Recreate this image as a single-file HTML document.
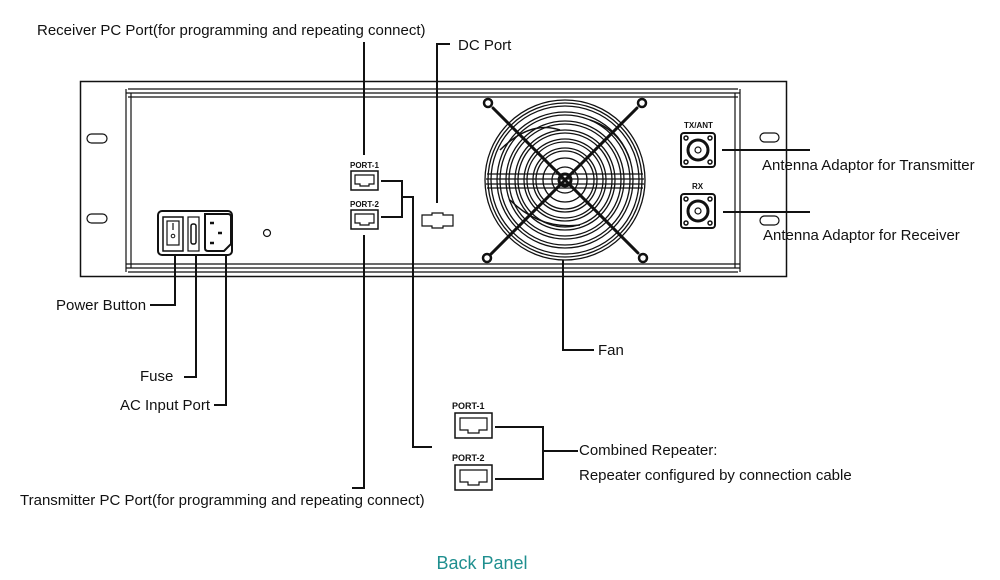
<!DOCTYPE html>
<html><head><meta charset="utf-8"><style>
html,body{margin:0;padding:0;background:#fff;}
svg{display:block;font-family:"Liberation Sans",Arial,sans-serif;}
.t{font-size:15px;fill:#111;}
.s{font-size:8px;font-weight:bold;fill:#111;}
</style></head><body>
<svg width="1000" height="580" viewBox="0 0 1000 580" xmlns="http://www.w3.org/2000/svg">
<g fill="none" stroke="#111">
<rect x="80.5" y="81.5" width="706" height="195" stroke-width="1.5"/>
<path d="M128 89 H738 M126 93 H740 M128 97 H738 M126 268 H740 M128 272 H738 M126 264 H740 M126 89 V272 M131 93 V268 M740 89 V272 M735 93 V268" stroke-width="1.2"/>
<rect x="87" y="134" width="20" height="9" rx="4.5" stroke-width="1.2"/>
<rect x="87" y="214" width="20" height="9" rx="4.5" stroke-width="1.2"/>
<rect x="760" y="133" width="19" height="9" rx="4.5" stroke-width="1.2"/>
<rect x="760" y="216" width="19" height="9" rx="4.5" stroke-width="1.2"/>
<rect x="158" y="211" width="74" height="44" rx="4" stroke-width="2"/>
<rect x="163" y="217" width="20" height="34" stroke-width="1.5"/>
<rect x="167" y="221" width="12" height="24" stroke-width="1.2"/>
<line x1="173" y1="223" x2="173" y2="230" stroke-width="1.2"/>
<circle cx="173" cy="236" r="1.8" stroke-width="1"/>
<rect x="188" y="217" width="11" height="34" stroke-width="1.2"/>
<rect x="191" y="224" width="5" height="20" rx="2" stroke-width="1.5"/>
<path d="M205 214 H228 Q231 214 231 217 V244 L224 251 H208 Q205 251 205 248 Z" stroke-width="2"/>
<g stroke-width="2.5"><line x1="210" y1="223" x2="214" y2="223"/><line x1="218" y1="233" x2="222" y2="233"/><line x1="210" y1="243" x2="214" y2="243"/></g>
<circle cx="267" cy="233" r="3.5" stroke-width="1.2"/>
<rect x="351" y="171" width="27" height="19" stroke-width="1.5"/>
<path d="M355 175 H374 V184 H369 V186 H360 V184 H355 Z" stroke-width="1.2"/>
<rect x="351" y="210" width="27" height="19" stroke-width="1.5"/>
<path d="M355 214 H374 V223 H369 V225 H360 V223 H355 Z" stroke-width="1.2"/>
<path d="M422 215 H432 V213 H443 V215 H453 V226 H443 V228 H432 V226 H422 Z" stroke-width="1.2"/>
<!-- fan -->
<g stroke-width="1.3">
<circle cx="565" cy="180" r="80"/><circle cx="565" cy="180" r="77"/><circle cx="565" cy="180" r="74"/>
<circle cx="565" cy="180" r="68"/><circle cx="565" cy="180" r="65"/>
<circle cx="565" cy="180" r="59"/><circle cx="565" cy="180" r="56"/>
<circle cx="565" cy="180" r="50"/><circle cx="565" cy="180" r="47"/>
<circle cx="565" cy="180" r="41"/><circle cx="565" cy="180" r="38"/>
<circle cx="565" cy="180" r="32"/><circle cx="565" cy="180" r="29"/>
<circle cx="565" cy="180" r="22"/><circle cx="565" cy="180" r="13"/>
<path d="M487 174 H643 M486 179 H644 M486 184 H644 M487 188 H643"/>
<path d="M500 150 Q530 120 560 130 M590 120 Q620 130 630 160 M510 200 Q540 230 580 225" stroke-width="1.5"/>
</g>
<g stroke-width="3" stroke-linecap="round">
<line x1="493" y1="108" x2="638" y2="253"/>
<line x1="637" y1="108" x2="490" y2="255"/>
</g>
<circle cx="488" cy="103" r="4" stroke-width="2.5"/><circle cx="642" cy="103" r="4" stroke-width="2.5"/>
<circle cx="487" cy="258" r="4" stroke-width="2.5"/><circle cx="643" cy="258" r="4" stroke-width="2.5"/>
<circle cx="565" cy="180" r="6" stroke-width="3"/>
<rect x="681" y="133" width="34" height="34" rx="3" stroke-width="2"/>
<circle cx="698" cy="150" r="10" stroke-width="3"/><circle cx="698" cy="150" r="3" stroke-width="1.2"/>
<g stroke-width="1.5"><circle cx="686" cy="138" r="2"/><circle cx="710" cy="138" r="2"/><circle cx="686" cy="162" r="2"/><circle cx="710" cy="162" r="2"/></g>
<rect x="681" y="194" width="34" height="34" rx="3" stroke-width="2"/>
<circle cx="698" cy="211" r="10" stroke-width="3"/><circle cx="698" cy="211" r="3" stroke-width="1.2"/>
<g stroke-width="1.5"><circle cx="686" cy="199" r="2"/><circle cx="710" cy="199" r="2"/><circle cx="686" cy="223" r="2"/><circle cx="710" cy="223" r="2"/></g>
<rect x="455" y="413" width="37" height="25" stroke-width="1.5"/>
<path d="M460 418 H487 V430 H479 V433 H468 V430 H460 Z" stroke-width="1.2"/>
<rect x="455" y="465" width="37" height="25" stroke-width="1.5"/>
<path d="M460 470 H487 V482 H479 V485 H468 V482 H460 Z" stroke-width="1.2"/>
<g stroke-width="2">
<polyline points="364,42 364,155"/>
<polyline points="437,203 437,44 450,44"/>
<polyline points="381,181 402,181 402,217 381,217"/>
<polyline points="402,197 413,197 413,447 432,447"/>
<polyline points="364,235 364,488 352,488"/>
<polyline points="175,255 175,305 150,305"/>
<polyline points="196,255 196,377 184,377"/>
<polyline points="226,255 226,405 214,405"/>
<polyline points="563,260 563,350 594,350"/>
<polyline points="495,427 543,427 543,479 495,479"/>
<polyline points="543,451 578,451"/>
<line x1="722" y1="150" x2="810" y2="150"/>
<line x1="723" y1="212" x2="810" y2="212"/>
</g>
</g>
<text class="s" x="350" y="168">PORT-1</text>
<text class="s" x="350" y="207">PORT-2</text>
<text class="s" x="684" y="128">TX/ANT</text>
<text class="s" x="692" y="189">RX</text>
<text class="s" x="452" y="409" style="font-size:9px">PORT-1</text>
<text class="s" x="452" y="461" style="font-size:9px">PORT-2</text>
<text class="t" x="37" y="35">Receiver PC Port(for programming and repeating connect)</text>
<text class="t" x="458" y="50">DC Port</text>
<text class="t" x="762" y="170">Antenna Adaptor for Transmitter</text>
<text class="t" x="763" y="240">Antenna Adaptor for Receiver</text>
<text class="t" x="56" y="310">Power Button</text>
<text class="t" x="140" y="381">Fuse</text>
<text class="t" x="120" y="410">AC Input Port</text>
<text class="t" x="598" y="355">Fan</text>
<text class="t" x="579" y="455">Combined Repeater:</text>
<text class="t" x="579" y="480">Repeater configured by connection cable</text>
<text class="t" x="20" y="505">Transmitter PC Port(for programming and repeating connect)</text>
<text x="482" y="569" text-anchor="middle" style="font-size:18px;fill:#1f8f8f">Back Panel</text>
</svg>
</body></html>
